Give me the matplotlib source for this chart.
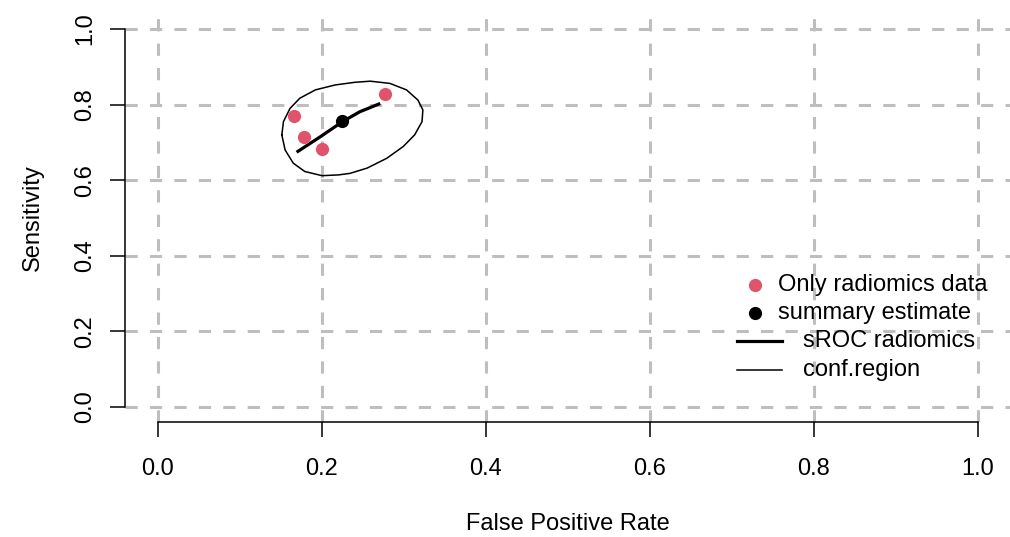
import numpy as np
import matplotlib
matplotlib.use("Agg")
import matplotlib.pyplot as plt

plt.rcParams['font.family'] = ['Liberation Sans', 'DejaVu Sans']

# study points (FPR, sensitivity)
study_fpr = [0.166, 0.178, 0.200, 0.277]
study_sens = [0.770, 0.714, 0.683, 0.828]

# summary estimate
summary_fpr = [0.224]
summary_sens = [0.757]

# sROC curve
sroc_fpr = [0.169, 0.198, 0.225, 0.246, 0.271]
sroc_sens = [0.674, 0.715, 0.755, 0.781, 0.803]

# confidence region outline
conf_fpr = [0.151, 0.153, 0.161, 0.173, 0.192, 0.216, 0.240, 0.259, 0.283,
            0.303, 0.317, 0.323, 0.322, 0.313, 0.299, 0.279, 0.255, 0.234,
            0.220, 0.200, 0.179, 0.165, 0.155, 0.151]
conf_sens = [0.720, 0.755, 0.790, 0.817, 0.839, 0.852, 0.859, 0.862, 0.856,
             0.839, 0.812, 0.786, 0.755, 0.720, 0.689, 0.658, 0.632, 0.618,
             0.614, 0.612, 0.623, 0.645, 0.680, 0.720]

ticks = [0.0, 0.2, 0.4, 0.6, 0.8, 1.0]
tick_labels = ["0.0", "0.2", "0.4", "0.6", "0.8", "1.0"]

legend_labels = ["Only radiomics data", "summary estimate",
                 "sROC radiomics", "conf.region"]

red = "#DF536B"
grid_col = "#BEBEBE"
fs = 17

fig = plt.figure(figsize=(10.1, 5.37), dpi=100)
W, H = 1010, 537
ax = fig.add_axes([125.2 / W, (H - 422.1) / H, 885.6 / W, 408.2 / H])
ax.set_xlim(-0.04, 1.04)
ax.set_ylim(-0.04, 1.04)

# dashed grid
for t in ticks:
    ax.axhline(t, color=grid_col, lw=2.2, dashes=(4, 4), zorder=1)
    ax.axvline(t, color=grid_col, lw=2.2, dashes=(4, 4), zorder=1)

# axes in R style
for s in ["top", "right"]:
    ax.spines[s].set_visible(False)
ax.spines["left"].set_bounds(0, 1)
ax.spines["bottom"].set_bounds(0, 1)
ax.spines["left"].set_linewidth(1.1)
ax.spines["bottom"].set_linewidth(1.1)
ax.set_xticks(ticks)
ax.set_xticklabels(tick_labels)
ax.set_yticks(ticks)
ax.set_yticklabels(tick_labels, rotation=90, va="center")
ax.tick_params(axis="x", length=10.8, width=1.1, pad=15, labelsize=fs)
ax.tick_params(axis="y", length=10.8, width=1.1, pad=10, labelsize=fs)
ax.set_xlabel("False Positive Rate", fontsize=fs, labelpad=24)
ax.set_ylabel("Sensitivity", fontsize=fs, labelpad=22)

# confidence region, sROC, points
ax.plot(conf_fpr, conf_sens, color="black", lw=1.1, zorder=3)
ax.plot(sroc_fpr, sroc_sens, color="black", lw=2.3, zorder=4,
        solid_capstyle="butt")
ax.plot(study_fpr, study_sens, "o", color=red, ms=9.5, mec="none", zorder=5)
ax.plot(summary_fpr, summary_sens, "o", color="black", ms=9.5, mec="none",
        zorder=6)

# legend drawn R style (no frame)
tr = ax.transAxes
ax.plot([0.7112], [0.3359], "o", color=red, ms=9.5, mec="none",
        transform=tr, clip_on=False, zorder=7)
ax.plot([0.7112], [0.2665], "o", color="black", ms=9.5, mec="none",
        transform=tr, clip_on=False, zorder=7)
ax.plot([0.6906, 0.7416], [0.1987, 0.1987], color="black", lw=2.3,
        transform=tr, clip_on=False, zorder=7)
ax.plot([0.6906, 0.7416], [0.1276, 0.1276], color="black", lw=1.1,
        transform=tr, clip_on=False, zorder=7)
ax.text(0.7375, 0.3359, legend_labels[0], transform=tr, fontsize=fs,
        va="center", zorder=8)
ax.text(0.7375, 0.2665, legend_labels[1], transform=tr, fontsize=fs,
        va="center", zorder=8)
ax.text(0.7657, 0.1987, legend_labels[2], transform=tr, fontsize=fs,
        va="center", zorder=8)
ax.text(0.7657, 0.1276, legend_labels[3], transform=tr, fontsize=fs,
        va="center", zorder=8)

fig.savefig("out.png", dpi=100)
